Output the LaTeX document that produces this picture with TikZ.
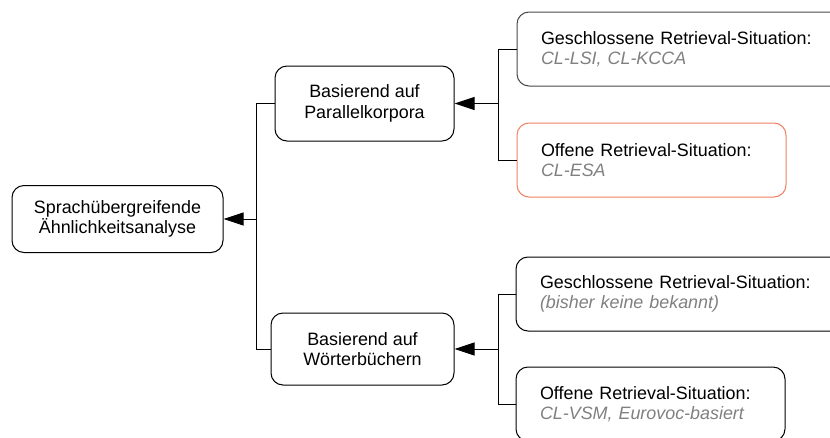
\documentclass[tikz,border=0pt]{standalone}
\usepackage{fontspec}
\setmainfont{Liberation Sans}
\usetikzlibrary{arrows.meta}
\definecolor{notegray}{RGB}{128,128,128}
\definecolor{openorange}{RGB}{240,128,96}
\definecolor{boxgray}{RGB}{70,70,70}
\tikzset{
  box/.style={draw=black, line width=1pt, rounded corners=12pt, inner sep=0pt,
    font=\fontsize{17.9}{20.5}\selectfont},
  centerbox/.style={box, align=center},
  leftbox/.style={box, align=left, inner xsep=24pt},
  link/.style={draw=black, line width=1pt},
  arrowlink/.style={link, -{Triangle[length=20pt,width=13pt]}},
  note/.style={color=notegray, font=\fontsize{17.9}{20.5}\selectfont\itshape}
}
\begin{document}
\begin{tikzpicture}[x=1pt,y=-1pt]
  \useasboundingbox (0,0) rectangle (830,437);
  \clip (0,0) rectangle (830,437);

  % root and first level
  \node[centerbox, minimum width=211pt, minimum height=67pt] (root) at (117.5,219)
    {Sprachübergreifende\\Ähnlichkeitsanalyse};
  \node[centerbox, minimum width=179pt, minimum height=75pt] (par) at (364.5,103.5)
    {Basierend auf\\Parallelkorpora};
  \node[centerbox, minimum width=183pt, minimum height=72pt] (wort) at (362.5,349)
    {Basierend auf\\Wörterbüchern};

  % retrieval situations
  \node[leftbox, draw=boxgray, text width=292pt, minimum height=74pt] (g1) at (687,49)
    {Geschlossene Retrieval-Situation:\\{\color{notegray}\itshape CL-LSI, CL-KCCA}};
  \node[leftbox, draw=openorange, text width=221pt, minimum height=74pt] (o1) at (651.5,160)
    {Offene Retrieval-Situation:\\{\color{notegray}\itshape CL-ESA}};
  \node[leftbox, text width=292pt, minimum height=74pt] (g2) at (686,294)
    {Geschlossene Retrieval-Situation:\\{\color{notegray}\itshape (bisher keine bekannt)}};
  \node[leftbox, text width=221pt, minimum height=74pt] (o2) at (650.5,404)
    {Offene Retrieval-Situation:\\{\color{notegray}\itshape CL-VSM, Eurovoc-basiert}};

  % junction points
  \coordinate (j1) at (256,219);
  \coordinate (j2) at (498,103.5);
  \coordinate (j3) at (498,349);

  % connectors
  \draw[link] (par.west) -| (j1);
  \draw[link] (wort.west) -| (j1);
  \draw[arrowlink] (j1) -- (root.east);

  \draw[link] (g1.west) -| (j2);
  \draw[link] (o1.west) -| (j2);
  \draw[arrowlink] (j2) -- (par.east);

  \draw[link] (g2.west) -| (j3);
  \draw[link] (o2.west) -| (j3);
  \draw[arrowlink] (j3) -- (wort.east);
\end{tikzpicture}
\end{document}
